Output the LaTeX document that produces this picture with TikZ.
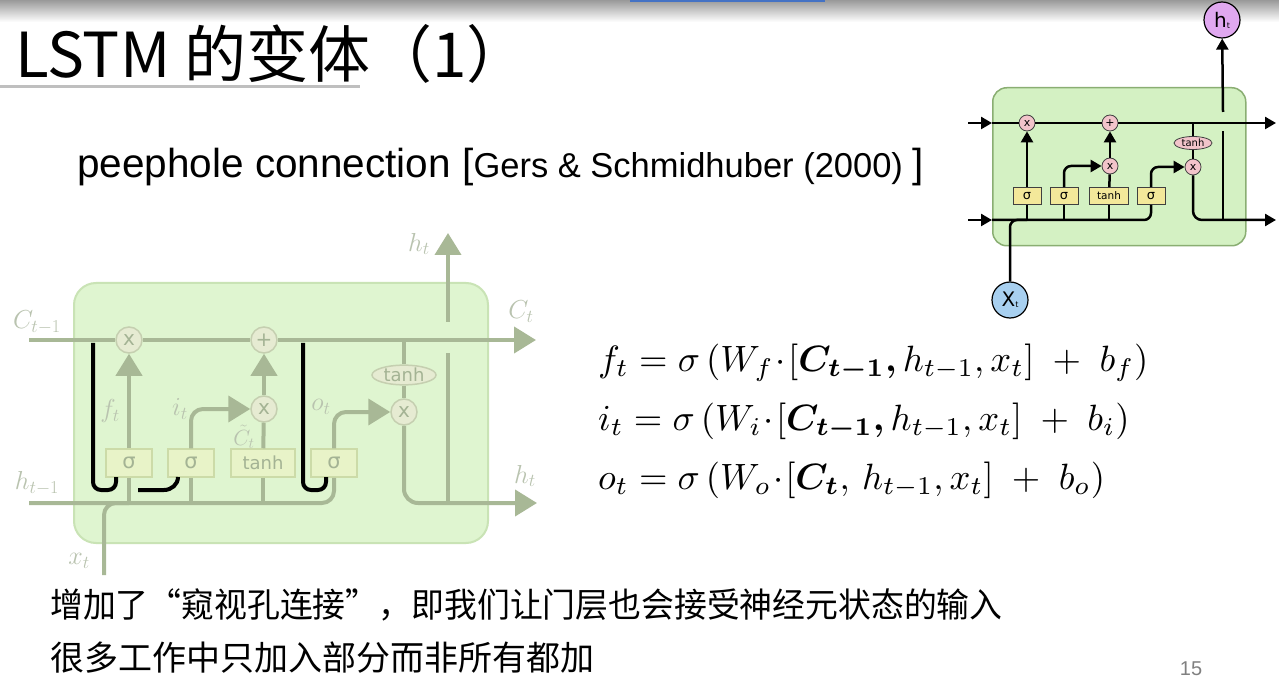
\RequirePackage{fix-cm}
\documentclass[tikz,border=0pt]{standalone}
\usepackage{amsmath}
\usepackage{bm}
\usepackage{graphicx}
\usepackage{fontspec}
\usetikzlibrary{arrows.meta,shapes.geometric}
\newfontfamily\cjk{Noto Sans CJK SC}
\newfontfamily\dejavu{DejaVu Sans}
\newfontfamily\arial{Liberation Sans}
\definecolor{lfill}{HTML}{DFF5D0}
\definecolor{lborder}{HTML}{C9E3B5}
\definecolor{lline}{HTML}{A8B896}
\definecolor{lcirc}{HTML}{E6EBD2}
\definecolor{lcircb}{HTML}{C5CFB0}
\definecolor{lbox}{HTML}{E8F3C8}
\definecolor{lboxb}{HTML}{CCDBA8}
\definecolor{ltext}{HTML}{A4B394}
\definecolor{llabel}{HTML}{B9C3AF}
\definecolor{rfill}{HTML}{D4F1C3}
\definecolor{rborder}{HTML}{8AAE72}
\definecolor{rpink}{HTML}{F2C4CA}
\definecolor{ryellow}{HTML}{F3E89A}
\definecolor{rviolet}{HTML}{E0A8F0}
\definecolor{rblue}{HTML}{A8D0F0}
\definecolor{ulgray}{HTML}{BFBFBF}
\definecolor{barblue}{HTML}{4472C4}
\definecolor{pgnum}{HTML}{808080}
\begin{document}
\begin{tikzpicture}[x=1pt,y=-1pt,
  lop/.style={circle, draw=lcircb, fill=lcirc, line width=1.5pt, minimum size=26pt, inner sep=0pt, text=ltext, font=\dejavu\fontsize{20}{20}\selectfont},
  lgate/.style={rectangle, draw=lboxb, fill=lbox, line width=1.5pt, minimum width=46pt, minimum height=28pt, inner sep=0pt, text=ltext, font=\dejavu\fontsize{21}{21}\selectfont},
  lwire/.style={draw=lline, line width=4pt},
  larrow/.style={lwire, -{Triangle[length=22pt,width=26pt]}},
  peep/.style={draw=black, line width=4pt, rounded corners=8pt},
  llab/.style={text=llabel, inner sep=0pt, font=\fontsize{26}{26}\selectfont},
  rop/.style={circle, draw=black!75, fill=rpink, line width=0.8pt, minimum size=16pt, inner sep=0pt, font=\dejavu\fontsize{11}{11}\selectfont},
  rgate/.style={rectangle, draw=black!75, fill=ryellow, line width=0.8pt, minimum width=28pt, minimum height=17pt, inner sep=0pt, font=\dejavu\fontsize{13}{13}\selectfont},
  rwire/.style={draw=black, line width=2.5pt},
  rarrow/.style={rwire, -{Triangle[length=11pt,width=12pt]}},
  eq/.style={anchor=base west, inner sep=0pt}
]
\useasboundingbox (0,0) rectangle (1279,684);
\fill[white] (0,0) rectangle (1279,684);
% top bar
\shade[top color=black!40, bottom color=white] (0,0) rectangle (1279,22);
\fill[barblue] (630,0) rectangle (825,2);
% title
\node[anchor=base west, inner sep=0pt, font=\cjk\fontsize{62}{62}\selectfont] (title) at (15,78) {LSTM 的变体（1）};
\draw[ulgray, line width=3pt] (0,87) -- (360,87);
\node[anchor=base west, inner sep=0pt, font=\arial] (sub) at (77,178)
  {\fontsize{40.5}{40}\selectfont peephole connection [\fontsize{34.5}{34}\selectfont Gers \& Schmidhuber (2000) \fontsize{40.5}{40}\selectfont]};

% ---------- left diagram ----------
\node[draw=lborder, fill=lfill, line width=2pt, rounded corners=22pt, minimum width=414pt, minimum height=260pt, anchor=north west, inner sep=0pt] (cell) at (73,282) {};
\coordinate (cin) at (29,340);
\coordinate (cout) at (536,340);
\coordinate (hin) at (29,503);
\coordinate (hout) at (537,503);
\coordinate (xin) at (104,575);
\coordinate (hup0) at (448,503);
\coordinate (hup1) at (448,353);
\coordinate (hup2) at (448,322);
\coordinate (htop) at (448,233);

\node[lop] (m1) at (129,340) {x};
\node[lop] (p1) at (264,340) {+};
\node[lop] (m2) at (264,409) {x};
\node[lop] (m3) at (404,412) {x};
\node[ellipse, draw=lcircb, fill=lcirc, line width=1.5pt, minimum width=64pt, minimum height=19pt, inner sep=0pt, text=ltext, font=\dejavu\fontsize{18}{18}\selectfont] (th) at (404,375) {tanh};
\node[lgate] (g1) at (129,463) {σ};
\node[lgate] (g2) at (191,463) {σ};
\node[lgate, minimum width=64pt, font=\dejavu\fontsize{18}{18}\selectfont] (g3) at (263,463) {tanh};
\node[lgate] (g4) at (334,463) {σ};

\draw[lwire] (cin) -- (m1);
\draw[lwire] (m1) -- (p1);
\draw[larrow] (p1) -- (cout);
\draw[lwire, rounded corners=12pt] (hin) -- (g4.south |- hin) -- (g4.south);
\draw[lwire, rounded corners=12pt] (xin) -- (xin |- hin) -- (g1.south |- hin);
\draw[lwire] (g1.south) -- (g1.south |- hin);
\draw[lwire] (g2.south) -- (g2.south |- hin);
\draw[lwire] (g3.south) -- (g3.south |- hin);
\draw[larrow] (g1) -- (m1);
\draw[larrow, rounded corners=12pt] (g2.north) |- (m2);
\draw[lwire] (g3) -- (m2);
\draw[larrow] (m2) -- (p1);
\draw[larrow, rounded corners=12pt] (g4.north) |- (m3);
\draw[lwire] (th |- cin) -- (th);
\draw[lwire] (th) -- (m3);
\draw[larrow, rounded corners=14pt] (m3) |- (hout);
\draw[lwire] (hup0) -- (hup1);
\draw[larrow] (hup2) -- (htop);

% peephole connections
\coordinate (pa1) at (93,343);
\coordinate (pb1) at (116,477);
\coordinate (pa2) at (138,490);
\coordinate (pb2) at (178,477);
\coordinate (pa3) at (303,343);
\coordinate (pb3) at (326,477);
\draw[peep] (pa1) -- (93,490) -- (116,490) -- (pb1);
\draw[draw=black, line width=4pt] (pa2) -- (164,490) to[out=0,in=-90] (pb2);
\draw[peep] (pa3) -- (303,490) -- (326,490) -- (pb3);

% labels
\node[llab] (lc0) at (37,322) {$C_{t-1}$};
\node[llab] (lc1) at (521,312) {$C_t$};
\node[llab] (lh0) at (37,483) {$h_{t-1}$};
\node[llab] (lh1) at (525,476) {$h_t$};
\node[llab] (lh2) at (419,244) {$h_t$};
\node[llab] (lx) at (79,561) {$x_t$};
\node[llab] (lf) at (110,411) {$f_t$};
\node[llab] (li) at (180,409) {$i_t$};
\node[llab, font=\fontsize{22}{22}\selectfont] (lct) at (244,437) {$\tilde{C}_t$};
\node[llab] (lo) at (321,407) {$o_t$};

% ---------- right diagram ----------
\node[draw=rborder, fill=rfill, line width=1.5pt, rounded corners=14pt, minimum width=253pt, minimum height=158pt, anchor=north west, inner sep=0pt] (rcell) at (992,87) {};
\coordinate (rcin) at (968,123);
\coordinate (rcl) at (992,123);
\coordinate (rcout) at (1276,123);
\coordinate (rhin) at (968,220);
\coordinate (rhl) at (992,220);
\coordinate (rhout) at (1276,220);
\coordinate (rup0) at (1223,220);
\coordinate (rup1) at (1223,131);
\coordinate (rup2) at (1223,112);

\node[rop] (rm1) at (1027,123) {x};
\node[rop] (rp1) at (1110,123) {+};
\node[rop] (rm2) at (1110,166) {x};
\node[rop] (rm3) at (1193,167) {x};
\node[ellipse, draw=black!75, fill=rpink, line width=0.8pt, minimum width=38pt, minimum height=13pt, inner sep=0pt, font=\dejavu\fontsize{10}{10}\selectfont] (rth) at (1193,143) {tanh};
\node[rgate] (rg1) at (1027,196) {σ};
\node[rgate] (rg2) at (1064,196) {σ};
\node[rgate, minimum width=39pt, font=\dejavu\fontsize{10.5}{10}\selectfont] (rg3) at (1109,196) {tanh};
\node[rgate] (rg4) at (1151,196) {σ};
\node[circle, draw=black, fill=rviolet, line width=1.2pt, minimum size=36pt, inner sep=0pt] (rht) at (1222,20) {\dejavu\fontsize{20}{20}\selectfont h\raisebox{-1pt}{\fontsize{8}{8}\selectfont t}};
\node[circle, draw=black, fill=rblue, line width=1.2pt, minimum size=36pt, inner sep=0pt] (rxt) at (1010,300) {\dejavu\fontsize{20}{20}\selectfont X\raisebox{-1pt}{\fontsize{8}{8}\selectfont t}};

\draw[rarrow] (rcin) -- (rcl);
\draw[rarrow] (rhin) -- (rhl);
\draw[rwire] (rcl) -- (rm1);
\draw[rwire] (rm1) -- (rp1);
\draw[rarrow] (rp1) -- (rcout);
\draw[rwire, rounded corners=7pt] (rhl) -- (rg4.south |- rhl) -- (rg4.south);
\draw[rwire, rounded corners=7pt] (rxt) -- (rxt |- rhl) -- (rg1.south |- rhl);
\draw[rwire] (rg1.south) -- (rg1.south |- rhl);
\draw[rwire] (rg2.south) -- (rg2.south |- rhl);
\draw[rwire] (rg3.south) -- (rg3.south |- rhl);
\draw[rarrow] (rg1) -- (rm1);
\draw[rarrow, rounded corners=7pt] (rg2.north) |- (rm2);
\draw[rwire] (rg3) -- (rm2);
\draw[rarrow] (rm2) -- (rp1);
\draw[rarrow, rounded corners=7pt] (rg4.north) |- (rm3);
\draw[rwire] (rth |- rcl) -- (rth);
\draw[rwire] (rth) -- (rm3);
\draw[rarrow, rounded corners=9pt] (rm3) |- (rhout);
\draw[rwire] (rup0) -- (rup1);
\draw[rarrow] (rup2) -- (rht);

% ---------- equations ----------
\node[eq] (eq1) at (598,371) {\scalebox{3.66}{$f_t=\sigma\,(W_f\!\cdot\![\bm{C_{t-1},}h_{t-1},x_t]\;+\;b_f)$}};
\node[eq] (eq2) at (598,430) {\scalebox{3.66}{$i_t=\sigma\,(W_i\!\cdot\![\bm{C_{t-1},}h_{t-1},x_t]\;+\;b_i)$}};
\node[eq] (eq3) at (598,489) {\scalebox{3.66}{$o_t=\sigma\,(W_o\!\cdot\![\bm{C_t},\,h_{t-1},x_t]\;+\;b_o)$}};

% ---------- bottom text ----------
\node[anchor=base west, inner sep=0pt, font=\cjk\fontsize{34}{34}\selectfont] (l1) at (50,617) {\scalebox{0.966}[1]{增加了“窥视孔连接”，即我们让门层也会接受神经元状态的输入}};
\node[anchor=base west, inner sep=0pt, font=\cjk\fontsize{34}{34}\selectfont] (l2) at (50,670) {很多工作中只加入部分而非所有都加};
\node[text=pgnum, inner sep=0pt, font=\arial\fontsize{20}{20}\selectfont] (pg) at (1191,669) {15};
\end{tikzpicture}
\end{document}
